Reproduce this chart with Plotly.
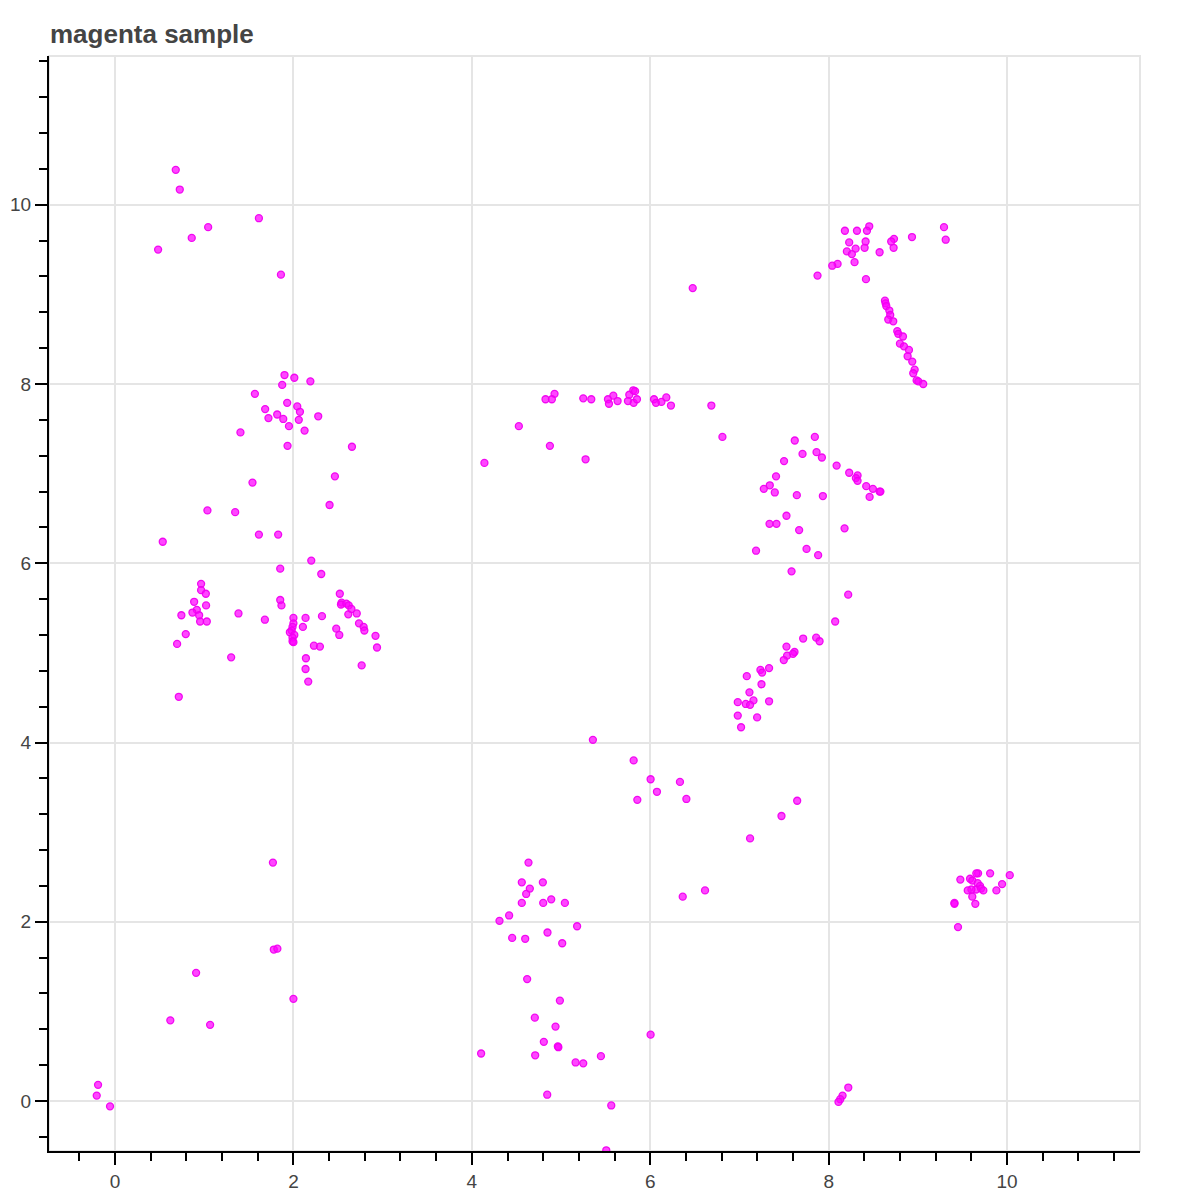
import plotly.graph_objects as go

# ---- data (grouped by visual cluster) ----
upper_left_x = [0.681, 0.726, 1.613, 1.044, 0.86, 0.483, 1.86,
                1.90, 2.01, 2.19, 1.874, 1.568, 1.93, 2.043, 2.073, 1.683, 1.818, 1.72, 1.886, 2.06,
                1.95, 2.278, 2.125, 1.406, 1.934, 2.656, 2.465, 1.541]
upper_left_y = [10.39, 10.17, 9.85, 9.75, 9.63, 9.50, 9.22,
                8.10, 8.07, 8.03, 7.99, 7.89, 7.79, 7.75, 7.69, 7.72, 7.66, 7.62, 7.61, 7.60,
                7.53, 7.64, 7.48, 7.46, 7.31, 7.30, 6.97, 6.90]

mid_left_x = [1.036, 1.347, 2.405, 0.535, 1.613, 1.829, 2.20, 2.312, 1.852,
              0.965, 0.965, 1.018, 0.887, 1.021, 0.917, 0.868, 0.943, 0.744, 0.954, 1.029, 0.793, 0.696,
              1.384, 1.68, 1.852, 1.866, 1.302, 0.715,
              2.0, 2.0, 1.99, 1.98, 1.96, 2.01, 1.99, 1.99, 2.0,
              2.136, 2.106, 2.32, 2.23, 2.297, 2.14, 2.136, 2.166,
              2.52, 2.54, 2.533, 2.593, 2.62, 2.65, 2.615, 2.71, 2.48, 2.514, 2.735, 2.787, 2.795,
              2.92, 2.937, 2.765]
mid_left_y = [6.59, 6.57, 6.65, 6.24, 6.32, 6.32, 6.03, 5.88, 5.94,
              5.77, 5.70, 5.66, 5.57, 5.53, 5.48, 5.45, 5.42, 5.42, 5.35, 5.35, 5.21, 5.10,
              5.44, 5.37, 5.59, 5.53, 4.95, 4.51,
              5.39, 5.33, 5.29, 5.25, 5.23, 5.20, 5.17, 5.13, 5.12,
              5.39, 5.29, 5.41, 5.08, 5.07, 4.94, 4.82, 4.68,
              5.66, 5.56, 5.54, 5.55, 5.53, 5.49, 5.43, 5.44, 5.27, 5.20, 5.33, 5.29, 5.25,
              5.19, 5.06, 4.86]

low_left_x = [1.77, 1.78, 1.82, 0.909, 2.0, 0.62, 1.066, -0.19, -0.205, -0.056]
low_left_y = [2.66, 1.69, 1.70, 1.43, 1.14, 0.90, 0.85, 0.18, 0.06, -0.06]

arc_x = [6.476, 4.927, 4.826, 4.897, 5.249, 5.339, 5.526, 5.586, 5.537, 5.634, 5.765, 5.81, 5.83,
         5.75, 5.814, 5.851, 6.042, 6.064, 6.125, 6.18, 6.232, 6.685, 6.809, 4.527, 4.875, 5.275, 4.141]
arc_y = [9.07, 7.89, 7.83, 7.83, 7.84, 7.83, 7.83, 7.87, 7.78, 7.81, 7.88, 7.93, 7.92,
         7.81, 7.79, 7.83, 7.83, 7.79, 7.80, 7.85, 7.76, 7.76, 7.41, 7.53, 7.31, 7.16, 7.12]

centre_x = [5.357, 5.814, 6.004, 6.333, 6.075, 5.855, 6.405, 7.647, 7.471, 7.119, 6.614, 6.364]
centre_y = [4.03, 3.80, 3.59, 3.56, 3.45, 3.36, 3.37, 3.35, 3.18, 2.93, 2.35, 2.28]

low_mid_x = [4.635, 4.56, 4.796, 4.65, 4.609, 4.56, 4.80, 4.89, 5.043, 4.418, 4.31, 5.18, 4.452, 4.598,
             4.848, 5.013, 4.62, 4.987, 4.706, 4.938, 4.807, 4.964, 4.97, 4.104, 4.71, 5.163, 5.249,
             5.447, 6.004, 4.845, 5.563, 5.507]
low_mid_y = [2.66, 2.44, 2.44, 2.37, 2.31, 2.21, 2.21, 2.25, 2.21, 2.07, 2.01, 1.95, 1.82, 1.81,
             1.88, 1.76, 1.36, 1.12, 0.93, 0.83, 0.66, 0.61, 0.60, 0.53, 0.51, 0.43, 0.42,
             0.50, 0.74, 0.07, -0.05, -0.55]

upper_right_x = [9.293, 9.312, 8.934, 8.455, 8.429, 8.317, 8.182, 8.23, 8.414, 8.403, 8.302, 8.204, 8.26,
                 8.29, 8.571, 8.732, 8.701, 8.728, 8.10, 8.04, 7.875, 8.418,
                 8.631, 8.638, 8.646, 8.68, 8.69, 8.668, 8.724, 8.769, 8.78, 8.833, 8.799, 8.844, 8.9,
                 8.885, 8.937, 8.964, 8.948, 8.986, 9.005, 9.06]
upper_right_y = [9.75, 9.61, 9.64, 9.76, 9.71, 9.71, 9.71, 9.58, 9.59, 9.52, 9.51, 9.48, 9.45,
                 9.36, 9.47, 9.62, 9.59, 9.52, 9.34, 9.32, 9.21, 9.17,
                 8.93, 8.90, 8.87, 8.82, 8.77, 8.72, 8.70, 8.59, 8.56, 8.53, 8.45, 8.42, 8.38,
                 8.31, 8.25, 8.16, 8.12, 8.04, 8.03, 8.00]

mid_right_x = [7.62, 7.845, 7.707, 7.864, 7.924, 7.50, 8.089, 8.23, 8.324, 8.305, 8.324, 7.41, 7.34,
               7.273, 7.396, 7.643, 7.935, 8.421, 8.496, 8.571, 8.58, 8.459, 7.527, 7.337, 7.415,
               7.669, 8.178, 7.186, 7.752, 7.882, 7.584, 8.219,
               8.073, 7.714, 7.86, 7.898, 7.527, 7.617, 7.60, 7.534, 7.497, 7.235, 7.254, 7.332,
               7.082, 7.247, 7.112, 7.157, 6.981, 7.071, 7.119, 7.332, 6.981, 7.198, 7.018]
mid_right_y = [7.37, 7.41, 7.22, 7.24, 7.18, 7.14, 7.09, 7.01, 6.98, 6.95, 6.92, 6.97, 6.87,
               6.83, 6.79, 6.76, 6.75, 6.86, 6.83, 6.80, 6.80, 6.74, 6.53, 6.44, 6.44,
               6.37, 6.39, 6.14, 6.16, 6.09, 5.91, 5.65,
               5.35, 5.16, 5.17, 5.13, 5.07, 5.01, 4.99, 4.97, 4.92, 4.81, 4.78, 4.83,
               4.74, 4.65, 4.56, 4.47, 4.45, 4.43, 4.42, 4.46, 4.30, 4.28, 4.17]

low_right_x = [10.03, 9.81, 9.675, 9.655, 9.944, 9.88, 9.476, 9.585, 9.61, 9.67, 9.697, 9.652, 9.708,
               9.734, 9.6, 9.559, 9.61, 9.644, 9.41, 9.41, 9.45,
               8.22, 8.156, 8.13, 8.11]
low_right_y = [2.52, 2.54, 2.54, 2.54, 2.42, 2.35, 2.47, 2.48, 2.46, 2.43, 2.40, 2.36, 2.37,
               2.35, 2.36, 2.35, 2.28, 2.20, 2.21, 2.20, 1.94,
               0.15, 0.06, 0.02, -0.01]

groups = [
    (upper_left_x, upper_left_y), (mid_left_x, mid_left_y), (low_left_x, low_left_y),
    (arc_x, arc_y), (centre_x, centre_y), (low_mid_x, low_mid_y),
    (upper_right_x, upper_right_y), (mid_right_x, mid_right_y), (low_right_x, low_right_y),
]

x_tick_values = [0, 2, 4, 6, 8, 10]
y_tick_values = [0, 2, 4, 6, 8, 10]

fig = go.Figure()
for gx, gy in groups:
    fig.add_trace(go.Scatter(
        x=gx, y=gy, mode="markers", showlegend=False, hoverinfo="x+y",
        marker=dict(size=7, color="rgba(255,0,255,0.72)",
                    line=dict(color="rgba(240,0,240,0.95)", width=1.3)),
    ))

axis_common = dict(
    showline=True, linecolor="black", linewidth=2, automargin=False,
    ticks="outside", ticklen=12, tickwidth=2, tickcolor="black",
    showgrid=True, gridcolor="#e5e5e5", gridwidth=2, zeroline=False,
    tickfont=dict(family="Liberation Sans, Arial, sans-serif", size=19, color="#444444"),
    minor=dict(ticks="outside", ticklen=8, tickwidth=2, tickcolor="black",
               dtick=0.4, tick0=0, showgrid=False),
)

W, H = 1192, 1192
fig.update_layout(
    width=W, height=H,
    margin=dict(l=41, r=60, t=48, b=49),
    paper_bgcolor="white", plot_bgcolor="white",
    title=dict(text="<b>magenta sample</b>", x=42 / W, xanchor="left", xref="container",
               y=1 - 26 / H, yanchor="middle", yref="container",
               font=dict(family="Liberation Sans, Arial, sans-serif", size=26, color="#444444")),
    xaxis=dict(range=[-0.74, 11.49], tickvals=x_tick_values, **axis_common),
    yaxis=dict(range=[-0.558, 11.66], tickvals=y_tick_values, ticklabelstandoff=0, **axis_common),
    shapes=[dict(type="rect", xref="paper", yref="paper", x0=0, x1=1, y0=0, y1=1,
                 line=dict(color="#e5e5e5", width=2), layer="below")],
)

fig.write_html("out.html")
